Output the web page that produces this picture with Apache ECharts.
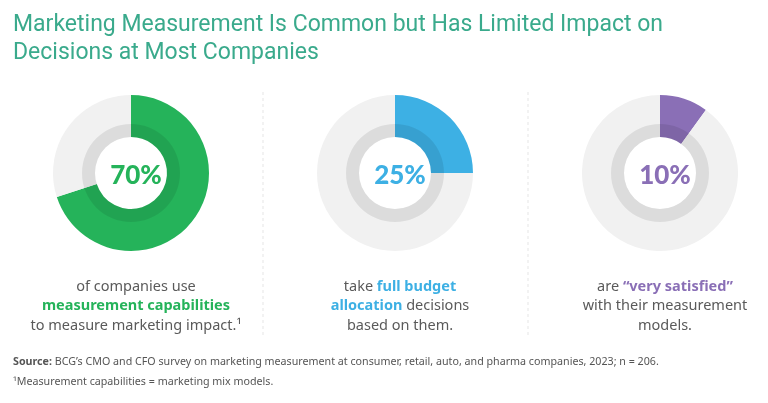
<!DOCTYPE html>
<html>
<head>
<meta charset="utf-8">
<script src="https://cdn.jsdelivr.net/npm/echarts@6/dist/echarts.min.js"></script>
<style>
html,body{margin:0;padding:0;background:#fff;}
#c{width:768px;height:403px;}
</style>
</head>
<body>
<div id="c"></div>
<script>
var titleLines = ['Marketing Measurement Is Common but Has Limited Impact on', 'Decisions at Most Companies'];
var shares = [70, 25, 10];
var shareLabels = ['70%', '25%', '10%'];
var sliceColors = ['#25b35a', '#3db0e4', '#8a6fb6'];
var captions = [
  [[['a','of companies use']], [['b','measurement capabilities']], [['a','to measure marketing impact.\u00b9']]],
  [[['a','take '],['b','full budget']], [['b','allocation'],['a',' decisions']], [['a','based on them.']]],
  [[['a','are '],['b','\u201cvery satisfied\u201d']], [['a','with their measurement']], [['a','models.']]]
];
var sourceText = 'BCG\u2019s CMO and CFO survey on marketing measurement at consumer, retail, auto, and pharma companies, 2023; n = 206.';
var footnoteText = '\u00b9Measurement capabilities = marketing mix models.';

var centersX = [131, 395, 660];
var centerY = 173;
var font = 'Noto Sans';

var series = [];
var titles = [];
shares.forEach(function (v, i) {
  series.push({
    type: 'pie', silent: true, center: [centersX[i], centerY], radius: [36, 78],
    startAngle: 90, clockwise: true, label: {show: false}, labelLine: {show: false},
    emphasis: {disabled: true}, animation: false,
    data: [
      {value: v, itemStyle: {color: sliceColors[i]}},
      {value: 100 - v, itemStyle: {color: '#f1f1f1'}}
    ]
  });
  series.push({
    type: 'pie', silent: true, center: [centersX[i], centerY], radius: [36, 49],
    label: {show: false}, labelLine: {show: false}, emphasis: {disabled: true}, animation: false,
    z: 3,
    data: [{value: 1, itemStyle: {color: 'rgba(0,0,0,0.085)'}}]
  });
  titles.push({
    text: shareLabels[i], left: centersX[i], top: centerY - 15, textAlign: 'center',
    textStyle: {fontFamily: 'Lato', fontWeight: 900, fontSize: 26, color: sliceColors[i]}
  });
  var rich = {
    a: {fontFamily: font, fontSize: 14.5, fontWeight: 'normal', color: '#5a5a5a', lineHeight: 19.5},
    b: {fontFamily: font, fontSize: 14.5, color: sliceColors[i], fontWeight: 'bold', lineHeight: 19.5}
  };
  var txt = captions[i].map(function (line) {
    return line.map(function (seg) { return '{' + seg[0] + '|' + seg[1] + '}'; }).join('');
  }).join('\n');
  titles.push({
    text: txt, left: centersX[i], top: 272, textAlign: 'center',
    textStyle: {rich: rich, fontFamily: font, fontWeight: 'normal', fontSize: 14.5, lineHeight: 19.5}
  });
});

titles.push({
  text: titleLines.join('\n'), left: 8, top: 6,
  textStyle: {fontFamily: 'Roboto', fontWeight: 'normal', fontSize: 23, color: '#3aaa8c', lineHeight: 28}
});
titles.push({
  text: '{s|Source:}{t| ' + sourceText + '}\n{t|' + footnoteText + '}', left: 8, top: 347,
  textStyle: {fontWeight: 'normal', fontSize: 10.7, rich: {
    s: {fontFamily: font, fontSize: 10.7, fontWeight: 'bold', color: '#555', lineHeight: 20},
    t: {fontFamily: font, fontSize: 10.7, fontWeight: 'normal', color: '#555', lineHeight: 20}
  }}
});

var chart = echarts.init(document.getElementById('c'), null, {renderer: 'canvas'});
chart.setOption({
  backgroundColor: '#fff',
  animation: false,
  title: titles,
  series: series,
  graphic: [263, 528].map(function (x) {
    return {type: 'line', shape: {x1: x, y1: 92, x2: x, y2: 338},
      style: {stroke: '#e6e6e6', lineWidth: 1, lineDash: [3, 3]}, silent: true};
  })
});
</script>
</body>
</html>
